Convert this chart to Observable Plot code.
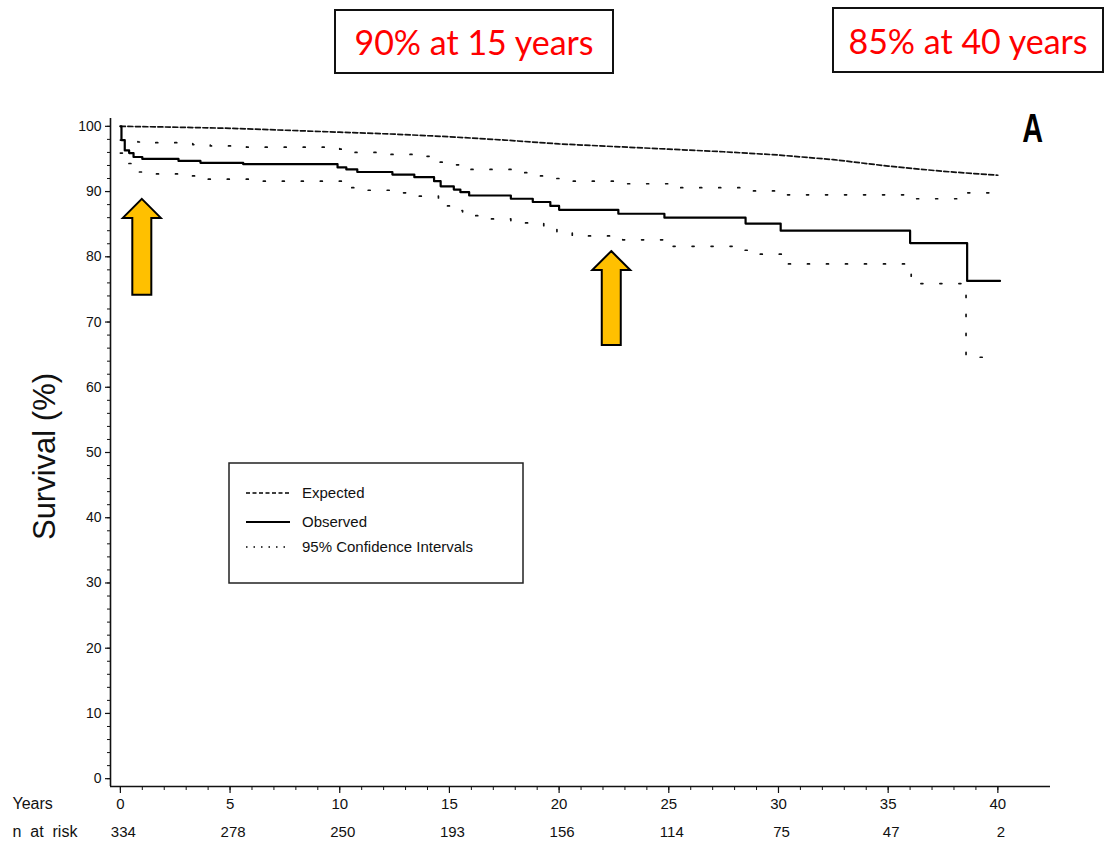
<!DOCTYPE html>
<html>
<head>
<meta charset="utf-8">
<script src="https://cdn.jsdelivr.net/npm/d3@7"></script>
<script src="https://cdn.jsdelivr.net/npm/@observablehq/plot@0.6"></script>
<style>
  html, body { margin: 0; padding: 0; background: #fff; }
  body { width: 1107px; height: 848px; overflow: hidden; position: relative; font-family: "Liberation Sans", Arial, sans-serif; }
  #chart { position: absolute; left: 0; top: 0; }
  .tbox { position: absolute; border: 2px solid #111; box-sizing: border-box; color: #ff0000;
          font-family: Lato, "Open Sans", sans-serif; font-size: 34px; display: flex;
          align-items: center; justify-content: center; background: #fff; white-space: nowrap; }
</style>
</head>
<body>
<div id="chart"></div>
<script>
// ---------- data ----------
const obsYears = [0, 0.05, 0.2, 0.4, 0.6, 1.0, 2.65, 3.65, 5.6, 9.9, 10.3, 10.8, 12.4, 13.4, 14.3, 14.6, 15.2, 15.5, 15.9, 17.8, 18.8, 19.6, 20.0, 22.7, 24.8, 28.5, 30.1, 36.0, 38.6, 40.1];
const obsSurv  = [100, 97.9, 96.3, 95.9, 95.3, 95.0, 94.7, 94.4, 94.2, 93.7, 93.4, 93.0, 92.6, 92.2, 91.6, 90.8, 90.3, 89.9, 89.4, 88.9, 88.4, 87.8, 87.2, 86.6, 86.0, 85.1, 84.0, 82.1, 76.3, 76.3];

const expYears = [0, 2, 5, 7.5, 10, 12.5, 15, 17.5, 20, 22.5, 25, 27.5, 30, 32.5, 35, 37.5, 40];
const expSurv  = [100, 99.9, 99.7, 99.4, 99.1, 98.8, 98.4, 97.9, 97.3, 96.9, 96.5, 96.1, 95.6, 94.9, 93.9, 93.1, 92.5];

const upperYears = [0, 0.8, 1.6, 3.3, 4.1, 5.75, 10.0, 10.7, 12.3, 13.9, 14.45, 15.15, 15.8, 18.2, 18.9, 19.65, 20.4, 22.8, 25.2, 28.5, 30.0, 35.9, 38.6, 40.1];
const upperSurv  = [97.9, 97.6, 97.5, 97.2, 97.0, 96.8, 96.5, 96.0, 95.7, 95.4, 94.5, 94.1, 93.4, 92.9, 92.4, 92.0, 91.6, 91.2, 90.6, 90.1, 89.5, 88.9, 89.8, 89.8];

const lowerYears = [0, 0.3, 0.7, 1.5, 3.1, 3.8, 6.3, 10.35, 11.0, 12.6, 13.3, 14.5, 15.0, 15.6, 16.3, 17.8, 19.3, 19.9, 20.6, 22.9, 25.2, 28.4, 29.1, 30.2, 35.9, 36.05, 38.55, 40.0];
const lowerSurv  = [95.9, 94.3, 93.0, 92.7, 92.4, 91.9, 91.6, 90.6, 90.2, 89.8, 89.3, 87.8, 87.1, 86.3, 85.8, 85.2, 84.6, 83.8, 83.2, 82.6, 81.6, 81.0, 80.4, 78.9, 77.7, 75.9, 64.6, 64.6];

const xTicks = [0, 5, 10, 15, 20, 25, 30, 35, 40];
const xMinorTicks = d3.range(0, 41, 1);
const yTicks = [0, 10, 20, 30, 40, 50, 60, 70, 80, 90, 100];
const yMinorTicks = d3.range(0, 101, 2);
const nAtRisk = [334, 278, 250, 193, 156, 114, 75, 47, 2];

const arrowYears = [1.0, 22.4];
const arrowTips  = [88.8, 80.8];
const arrowBases = [74.1, 66.4];

const legendLabels = ["Expected", "Observed", "95% Confidence Intervals"];
const titleTexts = ["90% at 15 years", "85% at 40 years"];
const panelLetter = ["A"];
const yLabel = ["Survival (%)"];
const rowLabels = ["Years", "n  at  risk"];

// ---------- build ----------
const toPts = (xs, ys) => xs.map((x, i) => ({x, y: ys[i]}));
const obs = toPts(obsYears, obsSurv);
const exp = toPts(expYears, expSurv);
const upper = toPts(upperYears, upperSurv);
const lower = toPts(lowerYears, lowerSurv);

const xDomain = [-0.45, 42.4];
const yDomain = [-1.2, 101.2];

const arrowsMark = (index, scales) => {
  const g = d3.create("svg:g");
  arrowYears.forEach((yr, i) => {
    const cx = scales.x(yr), ty = scales.y(arrowTips[i]), by = scales.y(arrowBases[i]);
    const hw = 19, sw = 9.5, hh = 19;
    g.append("path")
      .attr("d", `M${cx},${ty} L${cx + hw},${ty + hh} L${cx + sw},${ty + hh} L${cx + sw},${by} L${cx - sw},${by} L${cx - sw},${ty + hh} L${cx - hw},${ty + hh} Z`)
      .attr("fill", "#FFC000").attr("stroke", "#000").attr("stroke-width", 2).attr("stroke-linejoin", "miter");
  });
  return g.node();
};

const legendMark = () => {
  const g = d3.create("svg:g");
  g.append("rect").attr("x", 229).attr("y", 463).attr("width", 294).attr("height", 120)
    .attr("fill", "#fff").attr("stroke", "#222").attr("stroke-width", 1.5);
  const styles = [
    {dash: "4,2.5", w: 1.5},
    {dash: null, w: 2},
    {dash: "1.5,6", w: 1.5}
  ];
  const ys = [493, 522, 547];
  legendLabels.forEach((lab, i) => {
    const ln = g.append("line").attr("x1", 246).attr("x2", 290).attr("y1", ys[i]).attr("y2", ys[i])
      .attr("stroke", "#000").attr("stroke-width", styles[i].w);
    if (styles[i].dash) ln.attr("stroke-dasharray", styles[i].dash);
    g.append("text").attr("x", 302).attr("y", ys[i]).attr("dy", "0.35em")
      .attr("text-anchor", "start")
      .attr("font-size", 15).attr("fill", "#111").text(lab);
  });
  return g.node();
};

const letterMark = () => {
  const g = d3.create("svg:g").attr("transform", "translate(1043,142) scale(0.72,1)");
  g.append("text").attr("x", 0).attr("y", 0).attr("text-anchor", "end")
    .attr("font-size", 40).attr("font-weight", "bold").attr("fill", "#000")
    .attr("font-family", "'Liberation Sans', Arial, sans-serif").text(panelLetter[0]);
  return g.node();
};

const plot = Plot.plot({
  width: 1107,
  height: 848,
  marginLeft: 110,
  marginRight: 57,
  marginTop: 118,
  marginBottom: 62,
  x: {domain: xDomain, label: null},
  y: {domain: yDomain, label: null},
  style: {fontFamily: "'Liberation Sans', Arial, sans-serif", background: "white", color: "#111", overflow: "visible"},
  marks: [
    Plot.ruleX([xDomain[0]], {stroke: "#111", strokeWidth: 1.6}),
    Plot.ruleY([yDomain[0]], {stroke: "#111", strokeWidth: 1.6}),
    Plot.axisY(yMinorTicks, {tickSize: 3, tickFormat: () => "", label: null, strokeWidth: 1}),
    Plot.axisY(yTicks, {tickSize: 5, tickPadding: 4, fontSize: 14, label: null, strokeWidth: 1.2}),
    Plot.axisX(xMinorTicks, {tickSize: 4, tickFormat: () => "", label: null, strokeWidth: 1}),
    Plot.axisX(xTicks, {tickSize: 7, tickPadding: 5, fontSize: 15, label: null, strokeWidth: 1.2}),
    Plot.text(nAtRisk, {x: (d, i) => xTicks[i], dx: 3, text: d => String(d), frameAnchor: "bottom", dy: 50, fontSize: 15, fill: "#111"}),
    Plot.text([rowLabels[0]], {frameAnchor: "bottom-left", dx: -98, dy: 22, textAnchor: "start", fontSize: 16, fill: "#111"}),
    Plot.text([rowLabels[1]], {frameAnchor: "bottom-left", dx: -98, dy: 50, textAnchor: "start", fontSize: 16, fill: "#111"}),
    Plot.text(yLabel, {frameAnchor: "left", textAnchor: "middle", dx: -65, dy: 4, rotate: -90, fontSize: 31, fill: "#111"}),
    Plot.line(exp, {x: "x", y: "y", stroke: "#111", strokeWidth: 1.7, strokeDasharray: "5,2.5"}),
    Plot.line(upper, {x: "x", y: "y", curve: "step-after", stroke: "#111", strokeWidth: 1.7, strokeDasharray: "2,17"}),
    Plot.line(lower, {x: "x", y: "y", curve: "step-after", stroke: "#111", strokeWidth: 1.7, strokeDasharray: "2,17"}),
    Plot.line(obs, {x: "x", y: "y", curve: "step-after", stroke: "#000", strokeWidth: 2.2}),
    arrowsMark,
    legendMark,
    letterMark
  ]
});
document.getElementById("chart").appendChild(plot);

// title boxes above the chart
const boxes = [
  {left: 334, top: 9, width: 280, height: 65},
  {left: 832, top: 7, width: 272, height: 66}
];
titleTexts.forEach((t, i) => {
  const d = document.createElement("div");
  d.className = "tbox";
  const b = boxes[i];
  d.style.left = b.left + "px"; d.style.top = b.top + "px";
  d.style.width = b.width + "px"; d.style.height = b.height + "px";
  d.textContent = t;
  document.body.appendChild(d);
});
</script>
</body>
</html>
